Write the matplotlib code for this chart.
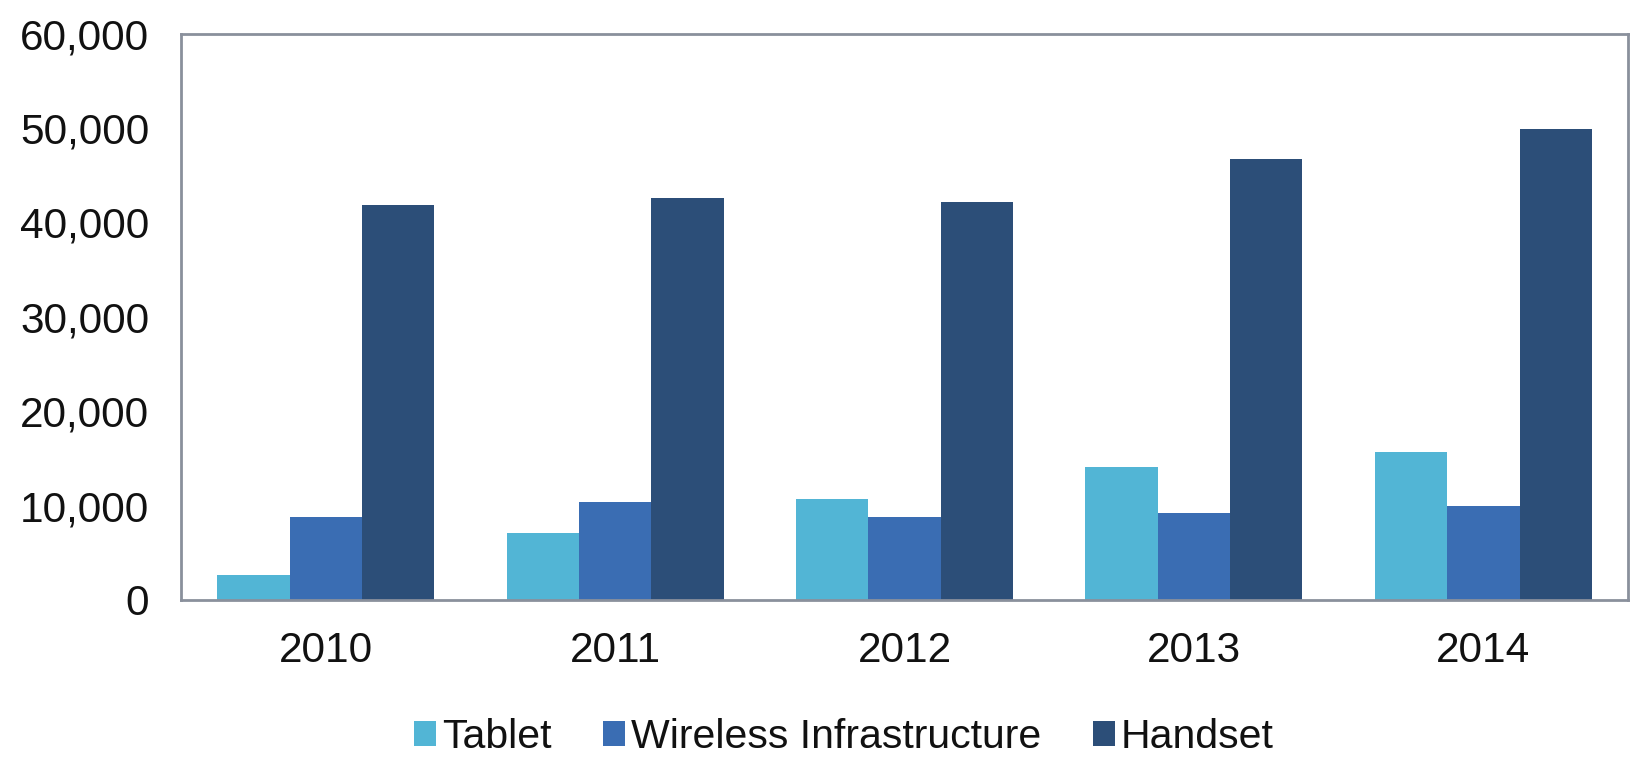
import matplotlib
matplotlib.use("Agg")
import matplotlib.pyplot as plt
import numpy as np
from matplotlib.ticker import FuncFormatter

years = ["2010", "2011", "2012", "2013", "2014"]
tablet = [2650, 7100, 10750, 14050, 15700]
wireless = [8760, 10370, 8760, 9180, 9980]
handset = [41800, 42600, 42200, 46700, 49900]

series = [("Tablet", tablet, "#52b5d5"),
          ("Wireless Infrastructure", wireless, "#3a6db3"),
          ("Handset", handset, "#2c4e78")]

plt.rcParams["font.family"] = ["Liberation Sans", "DejaVu Sans"]

fig = plt.figure(figsize=(16.4, 7.57), dpi=100)
ax = fig.add_axes([0.1104, 0.2074, 0.9927 - 0.1104, 0.9557 - 0.2074])

x = np.arange(len(years))
w = 0.25
for i, (name, vals, col) in enumerate(series):
    ax.bar(x + (i - 1) * w, vals, width=w, color=col, label=name, linewidth=0)

ax.set_xlim(-0.5, len(years) - 0.5)
ax.set_ylim(0, 60000)
ax.set_yticks(np.arange(0, 60001, 10000))
ax.yaxis.set_major_formatter(FuncFormatter(lambda v, p: f"{int(v):,}"))
ax.set_xticks(x)
ax.set_xticklabels(years)
ax.tick_params(axis="both", length=0, labelsize=30.5, colors="#111111")
ax.tick_params(axis="y", pad=23)
ax.tick_params(axis="x", pad=22)
for s in ax.spines.values():
    s.set_color("#8a909c")
    s.set_linewidth(2)

fig.legend(loc="lower center", bbox_to_anchor=(0.5146, -0.026), ncol=3,
           frameon=False, fontsize=29.5, handlelength=0.54, handleheight=0.54,
           handletextpad=0.15, columnspacing=1.25, borderpad=0,
           labelcolor="#111111")

fig.savefig("out.png", dpi=100, facecolor="white")
